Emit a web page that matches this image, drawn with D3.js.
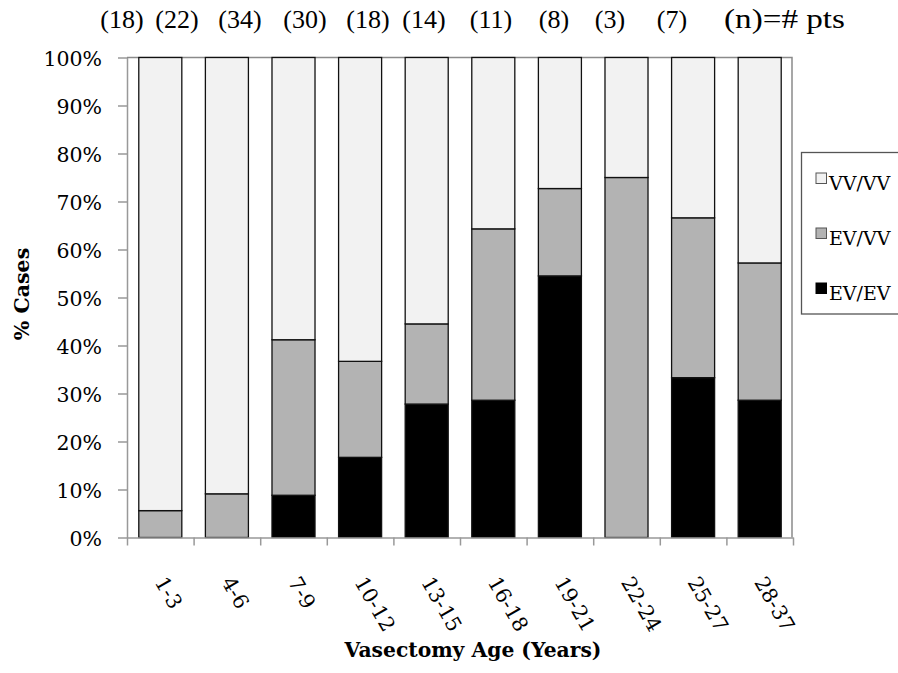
<!DOCTYPE html>
<html lang="en">
<head>
  <meta charset="utf-8">
  <title>Vasectomy age</title>
  <script src="https://d3js.org/d3.v7.min.js"></script>
  <style>
    body { margin: 0; background: #fff; }
    text { font-family: "DejaVu Serif", serif; fill: #000; }
    .count { font-family: "Liberation Serif", "Times New Roman", serif; font-size: 26px; }
    .tick text { font-size: 20.5px; font-family: "DejaVu Serif", serif; }
  </style>
</head>
<body>
<script>
  // values (% of cases in each age group)
  var ageGroups = ["1-3", "4-6", "7-9", "10-12", "13-15", "16-18", "19-21", "22-24", "25-27", "28-37"];
  var evEv = [0, 0, 8.8, 16.7, 27.8, 28.6, 54.5, 0, 33.3, 28.6];
  var evVv = [5.6, 9.1, 32.4, 20.0, 16.7, 35.7, 18.2, 75.0, 33.3, 28.6];
  var vvVv = [94.4, 90.9, 58.8, 63.3, 55.5, 35.7, 27.3, 25.0, 33.4, 42.8];
  var patientCounts = [18, 22, 34, 30, 18, 14, 11, 8, 3, 7];
  var yTicks = [0, 0.1, 0.2, 0.3, 0.4, 0.5, 0.6, 0.7, 0.8, 0.9, 1];
  var seriesNames = ["EV/EV", "EV/VV", "VV/VV"];
  var seriesColors = {"EV/EV": "#000000", "EV/VV": "#b3b3b3", "VV/VV": "#f2f2f2"};
  var legendOrder = ["VV/VV", "EV/VV", "EV/EV"];

  // the (n) labels sit in a free text box above the plot, not on the bars
  var countX = [122, 177, 240, 305, 368, 424, 491, 554, 610, 672];

  var width = 898, height = 673;
  var plotLeft = 127, plotRight = 793, plotTop = 57.5, plotBottom = 537.5;

  var svg = d3.select("body").append("svg")
    .attr("width", width)
    .attr("height", height);

  var x = d3.scaleBand()
    .domain(ageGroups)
    .range([plotLeft, plotRight])
    .paddingInner(0.354)
    .paddingOuter(0.177);

  var xEdge = d3.scaleLinear()   // for the tick marks between the bars
    .domain([0, ageGroups.length])
    .range([plotLeft, plotRight]);

  var y = d3.scaleLinear()
    .domain([0, 1])
    .range([plotBottom, plotTop]);

  var table = ageGroups.map(function(g, i) {
    return {group: g, "EV/EV": evEv[i], "EV/VV": evVv[i], "VV/VV": vvVv[i]};
  });

  var stacked = d3.stack()
    .keys(seriesNames)
    .offset(d3.stackOffsetExpand)(table);

  // frame top + right
  svg.append("path")
    .attr("d", "M" + plotLeft + "," + plotTop + "H" + (plotRight - 1) + "V" + plotBottom)
    .attr("fill", "none")
    .attr("stroke", "#8a8a8a")
    .attr("stroke-width", 1.5);

  // bars
  var layers = svg.selectAll(".layer")
    .data(stacked)
    .enter().append("g")
    .attr("class", "layer")
    .attr("fill", function(d) { return seriesColors[d.key]; });

  layers.selectAll("rect")
    .data(function(d) { return d.filter(function(v) { return v[1] - v[0] > 0; }); })
    .enter().append("rect")
    .attr("x", function(d) { return x(d.data.group); })
    .attr("width", x.bandwidth())
    .attr("y", function(d) { return y(d[1]); })
    .attr("height", function(d) { return y(d[0]) - y(d[1]); })
    .attr("stroke", "#111")
    .attr("stroke-width", 1.3);

  // y axis
  var yAxis = svg.append("g")
    .attr("transform", "translate(" + plotLeft + ",0)")
    .call(d3.axisLeft(y)
      .tickValues(yTicks)
      .tickFormat(d3.format(".0%"))
      .tickSize(9)
      .tickSizeOuter(0)
      .tickPadding(16));
  yAxis.selectAll("path, line").attr("stroke", "#999").attr("stroke-width", 1.5);
  yAxis.selectAll("text").attr("dy", "0.38em");

  // x axis (ticks between the groups)
  var xAxis = svg.append("g")
    .attr("transform", "translate(0," + plotBottom + ")")
    .call(d3.axisBottom(xEdge)
      .tickValues(d3.range(0, ageGroups.length + 1))
      .tickFormat("")
      .tickSize(8)
      .tickSizeOuter(0));
  xAxis.selectAll("path, line").attr("stroke", "#999").attr("stroke-width", 1.5);

  svg.append("g").selectAll("text")
    .data(ageGroups)
    .enter().append("text")
    .attr("transform", function(d) {
      return "translate(" + (x(d) + x.bandwidth() / 2 - 6) + ",582) rotate(60)";
    })
    .style("font-size", "20.5px")
    .text(function(d) { return d; });

  // axis titles
  svg.append("text")
    .attr("x", 473)
    .attr("y", 657)
    .attr("text-anchor", "middle")
    .style("font-size", "20.3px")
    .style("font-weight", "bold")
    .text("Vasectomy Age (Years)");

  svg.append("text")
    .attr("transform", "translate(29,294) rotate(-90)")
    .attr("text-anchor", "middle")
    .style("font-size", "20.5px")
    .style("font-weight", "bold")
    .text("% Cases");

  // number of patients
  svg.append("g").selectAll("text")
    .data(patientCounts)
    .enter().append("text")
    .attr("class", "count")
    .attr("x", function(d, i) { return countX[i]; })
    .attr("y", 28)
    .attr("text-anchor", "middle")
    .text(function(d) { return "(" + d + ")"; });

  svg.append("text")
    .attr("class", "count")
    .attr("x", 724)
    .attr("y", 28)
    .attr("textLength", 121)
    .attr("lengthAdjust", "spacingAndGlyphs")
    .style("font-size", "28px")
    .text("(n)=# pts");

  // legend
  var legend = svg.append("g");
  legend.append("rect")
    .attr("x", 801.5)
    .attr("y", 152.5)
    .attr("width", 120)
    .attr("height", 161.5)
    .attr("fill", "#fff")
    .attr("stroke", "#555")
    .attr("stroke-width", 1.3);

  var items = legend.selectAll(".item")
    .data(legendOrder)
    .enter().append("g")
    .attr("transform", function(d, i) { return "translate(816," + (173 + i * 55) + ")"; });

  items.append("rect")
    .attr("width", 10.5)
    .attr("height", 10.5)
    .attr("fill", function(d) { return seriesColors[d]; })
    .attr("stroke", function(d) { return d === "EV/EV" ? "#000" : "#555"; })
    .attr("stroke-width", 1);

  items.append("text")
    .attr("x", 13)
    .attr("y", 16.5)
    .style("font-size", "19px")
    .text(function(d) { return d; });
</script>
</body>
</html>
